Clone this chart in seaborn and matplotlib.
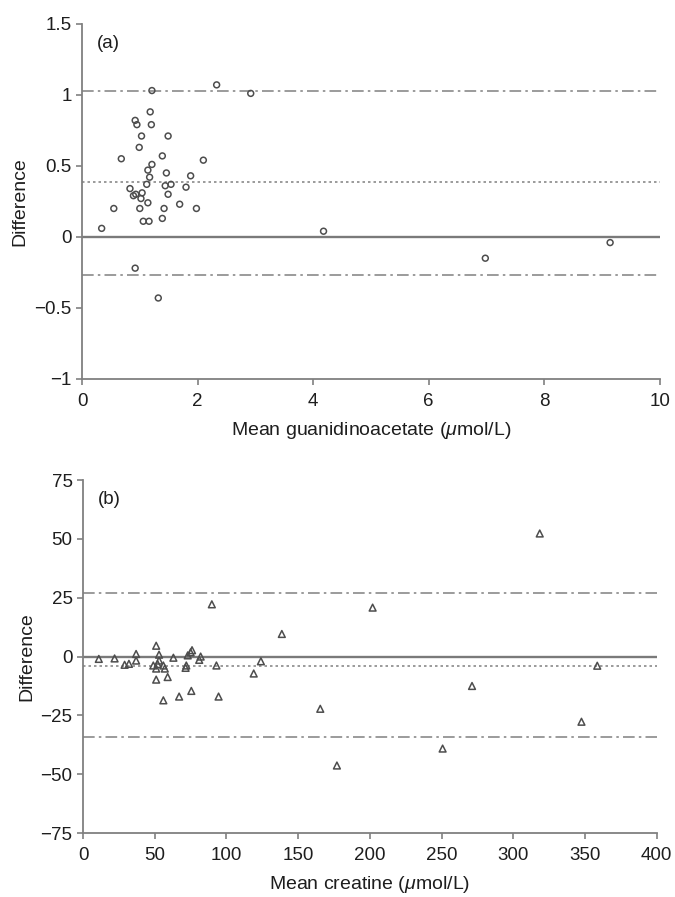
import matplotlib
matplotlib.use('Agg')
import seaborn as sns
import matplotlib.pyplot as plt
from matplotlib.ticker import FuncFormatter

# panel (a): guanidinoacetate
gaa_mean = [0.34, 0.55, 0.68, 0.92, 0.95, 1.03, 0.99, 1.18, 1.20, 1.21, 1.49, 1.39,
            1.21, 1.14, 1.17, 1.12, 1.46, 1.44, 1.54, 1.49, 1.88, 1.80, 2.10, 0.83,
            0.89, 0.93, 1.04, 1.02, 1.14, 1.00, 1.42, 1.69, 1.98, 1.06, 1.16, 1.39,
            2.33, 2.92, 0.92, 1.32, 4.18, 6.98, 9.14]
gaa_diff = [0.06, 0.20, 0.55, 0.82, 0.79, 0.71, 0.63, 0.88, 0.79, 1.03, 0.71, 0.57,
            0.51, 0.47, 0.42, 0.37, 0.45, 0.36, 0.37, 0.30, 0.43, 0.35, 0.54, 0.34,
            0.29, 0.30, 0.31, 0.27, 0.24, 0.20, 0.20, 0.23, 0.20, 0.11, 0.11, 0.13,
            1.07, 1.01, -0.22, -0.43, 0.04, -0.15, -0.04]
gaa_lines = [1.03, 0.385, -0.265]  # upper limit, mean, lower limit

# panel (b): creatine
cr_mean = [11, 22, 37, 37, 32, 29, 51, 53, 53, 49, 52, 56, 51, 57, 51, 59, 63, 75,
           76, 73, 72, 71.5, 81, 82, 93, 56, 67, 75.5, 94.5, 89.8, 119, 124, 138.6,
           165.4, 177, 201.9, 250.7, 271.2, 318.4, 347.5, 358.5]
cr_diff = [-1.0, -0.8, 1.1, -1.7, -3.1, -3.5, 4.6, 0.8, -1.7, -3.8, -3.2, -3.8, -5.1,
           -5.1, -9.8, -8.7, -0.5, 1.8, 2.7, 0.5, -3.8, -4.8, -1.4, 0.0, -3.8, -18.6,
           -17.0, -14.6, -17.0, 22.2, -7.2, -2.0, 9.6, -22.2, -46.3, 20.8, -39.1,
           -12.5, 52.3, -27.7, -3.9]
cr_lines = [26.9, -3.9, -34.3]

sns.set_style('white')
plt.rcParams['font.family'] = ['Liberation Sans', 'DejaVu Sans']
plt.rcParams['mathtext.fontset'] = 'custom'
plt.rcParams['mathtext.it'] = 'Liberation Sans:italic'
plt.rcParams['mathtext.rm'] = 'Liberation Sans'

fig = plt.figure(figsize=(6.75, 8.97), dpi=100)
ax1 = fig.add_axes([0.1215, 0.5775, 0.856, 0.396])
ax2 = fig.add_axes([0.123, 0.0713, 0.850, 0.3935])

axis_col = '#808080'
mark_col = '#4d4d4d'
txt_col = '#1e1e1e'
fmt = FuncFormatter(lambda v, p: ('%g' % v).replace('-', '\u2212'))


def panel(ax, x, y, lines, marker, size, xlim, ylim, xticks, yticks, xlabel, tag):
    ax.axhline(0, color='#7a7a7a', lw=1.7, zorder=1)
    ax.axhline(lines[0], color='#8a8a8a', lw=1.2, ls=(0, (7, 2.5, 1.5, 2.5)), zorder=1)
    ax.axhline(lines[1], color='#8a8a8a', lw=1.2, ls=(0, (1.5, 1.8)), zorder=1)
    ax.axhline(lines[2], color='#8a8a8a', lw=1.2, ls=(0, (7, 2.5, 1.5, 2.5)), zorder=1)
    sns.scatterplot(x=x, y=y, ax=ax, marker=marker, s=size, facecolor='none',
                    edgecolor=mark_col, linewidth=1.1, zorder=3)
    ax.set_xlim(*xlim)
    ax.set_ylim(*ylim)
    ax.set_xticks(xticks)
    ax.set_yticks(yticks)
    ax.yaxis.set_major_formatter(fmt)
    ax.xaxis.set_major_formatter(fmt)
    sns.despine(ax=ax)
    for s in ['left', 'bottom']:
        ax.spines[s].set_color(axis_col)
        ax.spines[s].set_linewidth(1.3)
    ax.tick_params(axis='both', direction='out', length=4, width=1.2, color=axis_col,
                   labelsize=13.5, labelcolor=txt_col, left=True, bottom=True)
    ax.tick_params(axis='x', pad=6)
    ax.tick_params(axis='y', pad=3.5)
    ax.set_xlabel(xlabel, fontsize=14, color=txt_col, labelpad=7)
    ax.set_ylabel('Difference', fontsize=14, color=txt_col, labelpad=4)
    ax.text(0.026, 0.945, tag, transform=ax.transAxes, fontsize=13.5,
            color=txt_col, va='center', ha='left')


panel(ax1, gaa_mean, gaa_diff, gaa_lines, 'o', 18, (0, 10), (-1, 1.5),
      [0, 2, 4, 6, 8, 10], [-1, -0.5, 0, 0.5, 1, 1.5],
      r'Mean guanidinoacetate ($\mu$mol/L)', '(a)')
panel(ax2, cr_mean, cr_diff, cr_lines, '^', 24, (0, 400), (-75, 75),
      [0, 50, 100, 150, 200, 250, 300, 350, 400], [-75, -50, -25, 0, 25, 50, 75],
      r'Mean creatine ($\mu$mol/L)', '(b)')

fig.savefig('out.png', dpi=100)
